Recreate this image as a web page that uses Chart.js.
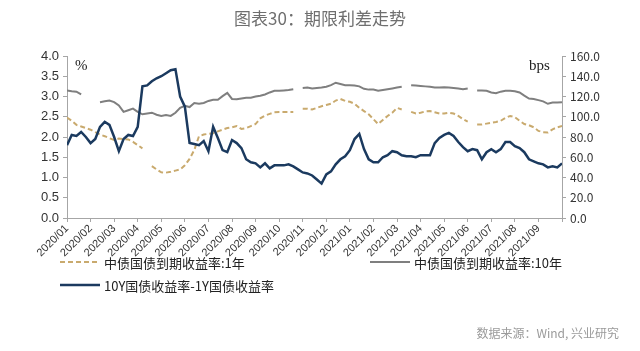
<!DOCTYPE html>
<html>
<head>
<meta charset="utf-8">
<script src="https://cdn.jsdelivr.net/npm/chart.js@4"></script>
<style>
  html, body { margin: 0; padding: 0; background: #fff; }
  #wrap { width: 640px; height: 351px; }
</style>
</head>
<body>
<div id="wrap"><canvas id="spreadChart"></canvas></div>
<script>
// month tick labels, one every month
const monthLabels = ['2020/01','2020/02','2020/03','2020/04','2020/05','2020/06','2020/07',
    '2020/08','2020/09','2020/10','2020/11','2020/12','2021/01','2021/02','2021/03',
    '2021/04','2021/05','2021/06','2021/07','2021/08','2021/09'];

// values read roughly every 6 days (5 per month); null = no data
const pointsPerMonth = 5;

const yield1Y = [2.48,2.40,2.30,2.26,2.22,2.18,2.12,2.06,2.02,1.97,
    1.93,1.96,1.95,1.94,1.88,1.80,1.72,null,1.28,1.20,
    1.13,1.12,1.14,1.17,1.20,1.30,1.46,1.68,2.02,2.06,
    2.08,2.09,2.14,2.18,2.22,2.24,2.27,2.20,2.22,2.27,
    2.32,2.46,2.53,2.57,2.61,2.62,2.62,2.62,2.62,null,
    2.70,2.70,2.68,2.72,2.76,2.79,2.82,2.90,2.94,2.89,
    2.87,2.82,2.72,2.64,2.56,2.44,2.32,2.42,2.52,2.60,
    2.72,2.68,null,2.62,2.58,2.60,2.63,2.64,2.61,2.58,
    2.58,2.60,2.58,2.52,2.44,2.38,null,2.31,2.31,2.33,
    2.35,2.37,2.40,2.47,2.52,2.49,2.40,2.32,2.29,2.24,
    2.15,2.12,2.11,2.19,2.24,2.27];

const yield10Y = [3.15,3.13,3.12,3.05,null,null,null,2.86,2.88,2.90,
    2.86,2.78,2.62,2.66,2.70,2.62,2.56,2.58,2.60,2.55,
    2.52,2.54,2.52,2.60,2.72,2.77,2.74,2.84,2.82,2.84,
    2.89,2.92,2.92,3.01,3.09,2.94,2.93,2.95,2.97,2.97,
    3.00,3.02,3.05,3.10,3.14,3.14,3.15,3.16,3.18,null,
    3.21,3.22,3.20,3.21,3.22,3.24,3.28,3.34,3.31,3.28,
    3.28,3.27,3.25,3.19,3.17,3.17,3.14,3.16,3.18,3.20,
    3.22,3.24,null,3.28,3.27,3.26,3.25,3.24,3.22,3.22,
    3.23,3.22,3.21,3.20,3.18,3.20,null,3.15,3.15,3.14,
    3.10,3.08,3.12,3.14,3.14,3.13,3.10,3.02,2.95,2.94,
    2.91,2.88,2.82,2.85,2.85,2.86];

// 10Y - 1Y spread, bps (right axis)
const spreadBps = [72,82,81,85,80,74,78,90,95,92,
    80,66,78,82,81,90,130,131,135,138,
    140,143,146,147,120,110,74,73,72,76,
    66,90,79,67,65,77,74,69,58,55,
    54,50,54,49,52,52,52,53,51,48,
    45,44,42,38,34,43,46,53,58,61,
    67,78,83,68,58,55,55,60,62,66,
    65,62,61,61,60,62,62,62,74,79,
    82,84,81,75,70,66,68,67,58,65,
    68,65,68,75,75,71,69,65,58,56,
    54,53,50,51,50,54];

const seriesNames = ['中债国债到期收益率:1年', '中债国债到期收益率:10年', '10Y国债收益率-1Y国债收益率'];

const toXY = arr => arr.map((v, i) => ({ x: i / pointsPerMonth, y: v }));

const latin = "'Liberation Sans', Arial, sans-serif";
const cjk = "'Noto Sans CJK SC', sans-serif";

const extrasPlugin = {
    id: 'extras',
    afterDraw(chart) {
        const ctx = chart.ctx;
        const area = chart.chartArea;
        ctx.save();
        // title
        ctx.fillStyle = '#6f6f6f';
        ctx.font = '17px ' + cjk;
        ctx.textAlign = 'center';
        ctx.textBaseline = 'middle';
        ctx.fillText('图表30：期限利差走势', 320, 19);

        // unit labels
        ctx.fillStyle = '#222';
        ctx.font = '15px "Liberation Serif", serif';
        ctx.textAlign = 'left';
        ctx.fillText('%', area.left + 8, area.top + 10);
        ctx.fillText('bps', area.right - 33, area.top + 10);

        // legend
        const ds = chart.data.datasets;
        const items = [
            { d: ds[0], x: 60, y: 262 },
            { d: ds[1], x: 370, y: 262 },
            { d: ds[2], x: 60, y: 285 }
        ];
        items.forEach(it => {
            ctx.beginPath();
            ctx.strokeStyle = it.d.borderColor;
            ctx.lineWidth = it.d.borderWidth;
            ctx.setLineDash(it.d.borderDash || []);
            ctx.moveTo(it.x, it.y);
            ctx.lineTo(it.x + 40, it.y);
            ctx.stroke();
            ctx.setLineDash([]);
            ctx.fillStyle = '#222';
            ctx.font = '13px ' + cjk;
            ctx.textAlign = 'left';
            ctx.fillText(it.d.label, it.x + 44, it.y + 1);
        });

        // source
        ctx.fillStyle = '#9a9a9a';
        ctx.font = '12px ' + cjk;
        ctx.textAlign = 'right';
        ctx.fillText('数据来源：Wind, 兴业研究', 619, 333);
        ctx.restore();
    }
};

const ctxSpread = document.getElementById('spreadChart');

const dataSpread = {
    datasets: [{
        label: seriesNames[0],
        data: toXY(yield1Y),
        yAxisID: 'y',
        borderColor: '#c9aa6e',
        borderWidth: 2,
        borderDash: [5, 3],
        pointRadius: 0,
        spanGaps: false,
        order: 3
    }, {
        label: seriesNames[1],
        data: toXY(yield10Y),
        yAxisID: 'y',
        borderColor: '#7f7f7f',
        borderWidth: 2,
        pointRadius: 0,
        spanGaps: false,
        order: 2
    }, {
        label: seriesNames[2],
        data: toXY(spreadBps),
        yAxisID: 'y1',
        borderColor: '#1b3a5f',
        borderWidth: 2.5,
        pointRadius: 0,
        order: 1
    }]
};

const configSpread = {
    type: 'line',
    data: dataSpread,
    plugins: [extrasPlugin],
    options: {
        responsive: true,
        maintainAspectRatio: false,
        animation: false,
        layout: { padding: { top: 56, left: 0, right: 0, bottom: 0 } },
        elements: { line: { tension: 0 } },
        plugins: {
            legend: { display: false },
            tooltip: { enabled: false }
        },
        scales: {
            x: {
                type: 'linear',
                min: 0,
                max: monthLabels.length,
                afterFit: s => { s.height = 133; },
                afterBuildTicks: s => {
                    s.ticks = monthLabels.map((_, i) => ({ value: i })).concat([{ value: monthLabels.length }]);
                },
                ticks: {
                    autoSkip: false,
                    maxRotation: 45,
                    minRotation: 45,
                    padding: 0,
                    color: '#333',
                    font: { family: latin, size: 11 },
                    callback: v => monthLabels[v] || ''
                },
                grid: { drawOnChartArea: false, drawTicks: true, tickLength: 4, color: '#a6a6a6' },
                border: { color: '#a6a6a6', width: 1 }
            },
            y: {
                position: 'left',
                min: 0,
                max: 4,
                afterFit: s => { s.width = 67; },
                ticks: {
                    stepSize: 0.5,
                    padding: 4,
                    color: '#333',
                    font: { family: latin, size: 13 },
                    callback: v => v.toFixed(1)
                },
                grid: { drawOnChartArea: false, drawTicks: true, tickLength: 4, color: '#a6a6a6' },
                border: { color: '#a6a6a6', width: 1 }
            },
            y1: {
                position: 'right',
                min: 0,
                max: 160,
                afterFit: s => { s.width = 78; },
                ticks: {
                    stepSize: 20,
                    padding: 4,
                    color: '#333',
                    font: { family: cjk, size: 12 },
                    callback: v => v.toFixed(1)
                },
                grid: { drawOnChartArea: false, drawTicks: true, tickLength: 4, color: '#a6a6a6' },
                border: { color: '#a6a6a6', width: 1 }
            }
        }
    }
};

const lineChartSpread = new Chart(ctxSpread, configSpread);
</script>
</body>
</html>
